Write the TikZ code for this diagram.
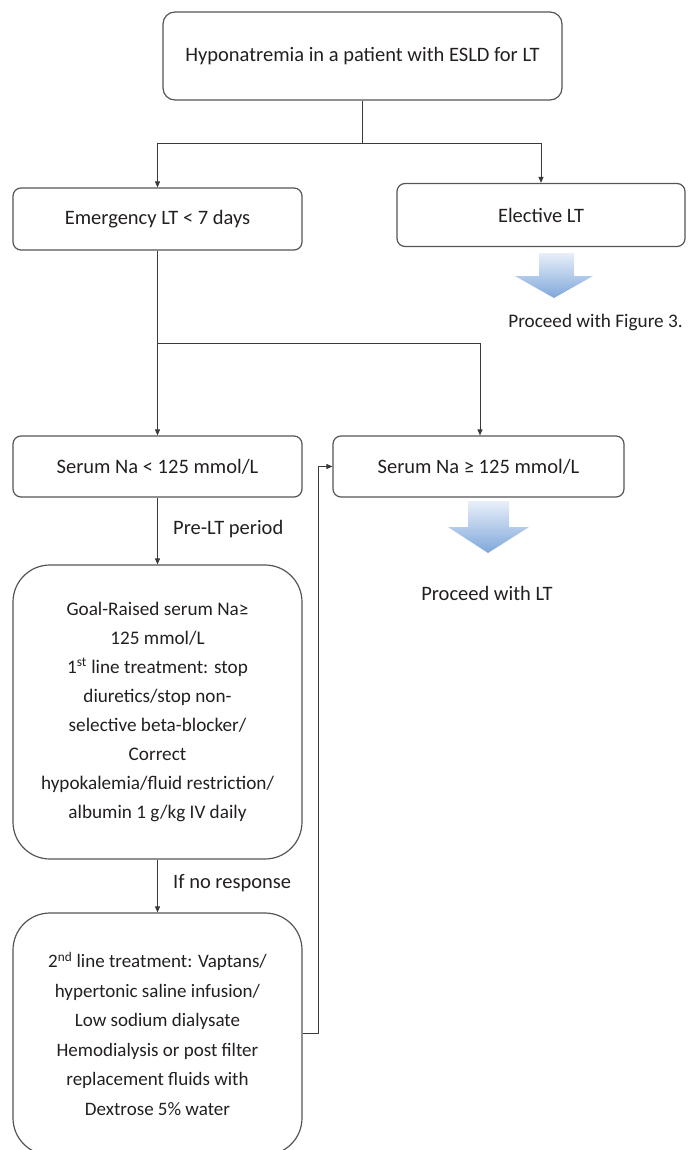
\documentclass[tikz,border=0pt]{standalone}
\usepackage{fontspec}
\setmainfont{Carlito}
\usetikzlibrary{arrows.meta}
\definecolor{txt}{HTML}{231F20}
\definecolor{edgec}{HTML}{555555}
\definecolor{linec}{HTML}{3A3A3A}
\definecolor{bluetop}{HTML}{E8EFF9}
\definecolor{bluebot}{HTML}{7FA7DA}
\tikzset{
  box/.style={draw=edgec, line width=1.2pt, rounded corners=8pt, align=center,
    inner sep=0pt, text=txt},
  bigbox/.style={box, rounded corners=37pt},
  conn/.style={draw=linec, line width=1pt, -{Triangle[length=6pt,width=5pt]}},
  plain/.style={draw=linec, line width=1pt},
  lab/.style={text=txt, inner sep=0pt, anchor=west},
  freetext/.style={text=txt, inner sep=0pt},
  bigarrow/.style={top color=bluetop, bottom color=bluebot, draw=none}
}
\begin{document}
\begin{tikzpicture}[x=1pt,y=-1pt,font=\fontsize{20.5}{29.3}\selectfont]
\useasboundingbox (0,0) rectangle (691,1150);
\clip (0,0) rectangle (691,1150);

% boxes
\node[box, rounded corners=12pt, minimum width=399pt, minimum height=88pt] (top) at (362.5,56) {Hyponatremia in a patient with ESLD for LT};
\node[box, minimum width=289pt, minimum height=62pt] (emerg) at (157.5,219) {Emergency LT < 7 days};
\node[box, minimum width=288pt, minimum height=63pt] (elect) at (541,215) {Elective LT};
\node[box, minimum width=289pt, minimum height=61pt] (slow) at (157.5,466.5) {Serum Na < 125 mmol/L};
\node[box, minimum width=291pt, minimum height=61pt] (shigh) at (478.5,466.5) {Serum Na ≥ 125 mmol/L};
\node[bigbox, minimum width=289pt, minimum height=294pt, font=\fontsize{19.2}{28.9}\selectfont] (goal) at (157.5,712) {Goal-Raised serum Na≥\\125 mmol/L\\1\textsuperscript{st} line treatment: stop\\diuretics/stop non-\\selective beta-blocker/\\Correct\\hypokalemia/fluid restriction/\\albumin 1 g/kg IV daily};
\node[bigbox, minimum width=289pt, minimum height=242pt, font=\fontsize{19}{29.5}\selectfont] (second) at (157.5,1034) {2\textsuperscript{nd} line treatment: Vaptans/\\hypertonic saline infusion/\\Low sodium dialysate\\Hemodialysis or post filter\\replacement fluids with\\Dextrose 5\% water};

% junction coordinates
\coordinate (j1) at (362,144);
\coordinate (j2) at (157.5,343);
\coordinate (fbA) at (318,1033);

% connectors
\draw[plain] (top.south -| j1) -- (j1);
\draw[conn] (j1) -| (emerg.north);
\draw[conn] (j1) -| (elect.north);
\draw[conn] (emerg.south) -- (slow.north);
\draw[conn] (j2) -| ([xshift=1.5pt]shigh.north);
\draw[conn] (slow.south) -- (goal.north);
\draw[conn] (goal.south) -- (second.north);
\draw[conn] (second.east |- fbA) -- (fbA) |- (shigh.west);

% labels
\node[lab] (prelab) at (173,529) {Pre-LT period};
\node[lab] (nolab) at (173,883) {If no response};

% blue arrows
\shade[bigarrow] (539,253) -- (574,253) -- (574,276) -- (593,276) -- (554,298) -- (515,276) -- (539,276) -- cycle;
\shade[bigarrow] (468,501) -- (509,501) -- (509,527) -- (529,527) -- (488,553) -- (448,527) -- (468,527) -- cycle;

\node[freetext, font=\fontsize{19.2}{22}\selectfont] (fig3) at (595.5,322) {Proceed with Figure 3.};
\node[freetext] (plt) at (487,593) {Proceed with LT};
\end{tikzpicture}
\end{document}
